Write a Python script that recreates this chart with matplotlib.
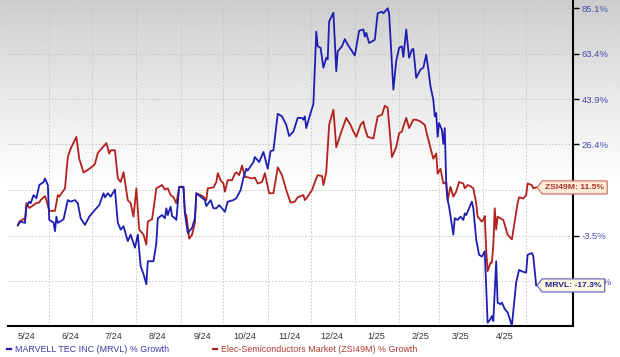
import numpy as np
import pandas as pd
import matplotlib
matplotlib.use("Agg")
import matplotlib.pyplot as plt
from matplotlib.path import Path
from matplotlib.lines import Line2D

# ---------------- data (days since 2024-05-01, % growth) ----------------
start_date = "2024-05-01"

mrvl_days = [9, 11, 14, 15, 17, 18, 20, 22, 24, 27, 28, 30, 31, 34, 35, 36, 37, 41, 44, 46,
             49, 51, 53, 56, 59, 63, 66, 69, 70, 72, 74, 77, 79, 81, 83, 86, 88, 91, 93, 95,
             97, 99, 100, 104, 106, 107, 110, 112, 113, 114, 116, 117, 119, 120, 122, 125, 126, 128, 131, 133,
             134, 137, 140, 141, 144, 146, 148, 150, 152, 154, 156, 160, 162, 165, 167, 169, 170, 174, 175, 178,
             181, 184, 186, 188, 190, 191, 194, 197, 199, 202, 205, 208, 209, 210, 211, 214, 216, 218, 219, 221,
             223, 225, 226, 227, 230, 232, 233, 236, 238, 240, 245, 248, 251, 252, 253, 255, 259, 261, 264, 265,
             268, 269, 272, 274, 276, 278, 279, 281, 283, 285, 286, 288, 291, 293, 295, 296, 298, 300, 301, 302,
             303, 304, 306, 307, 308, 309, 310, 311, 314, 315, 317, 319, 321, 322, 323, 325, 327, 328, 330, 332,
             334, 336, 337, 338, 340, 341, 342, 344, 345, 347, 348, 350, 352, 355, 358, 360, 363, 365, 366, 369,
             370, 372]
mrvl_growth = [-0.3, 0.7, 0.3, 5.3, 6.9, 6.4, 9.0, 8.0, 12.3, 13.3, 14.5, 12.3, 1.2, 0.4, -2.2, 2.2, 0.3, 1.4, 7.4, 6.9,
               7.4, 6.4, 1.7, -0.3, 2.2, 4.3, 5.8, 9.6, 8.3, 9.6, 8.5, 10.8, 0.3, -1.7, -0.7, -5.1, -3.2, -7.0, -3.2, -12.1,
               -14.3, -17.0, -10.8, -10.8, -5.6, 1.7, 2.7, 1.7, 4.8, 2.7, 5.3, 2.4, 1.7, 1.2, 11.7, 11.7, 3.2, -2.7, -1.2, 1.7,
               9.6, 8.5, 7.4, 5.5, 7.4, 4.8, 4.8, 5.8, 4.8, 3.7, 6.9, 7.4, 8.0, 10.6, 14.8, 17.8, 17.2, 20.1, 21.9, 20.1,
               23.7, 17.8, 24.0, 24.3, 33.1, 38.0, 37.0, 33.7, 29.5, 31.2, 36.4, 36.4, 35.7, 37.0, 32.5, 38.3, 41.9, 73.5, 66.7, 66.0,
               57.1, 61.5, 60.8, 78.4, 82.8, 55.6, 64.4, 66.7, 70.0, 67.5, 62.5, 74.0, 74.6, 71.2, 73.0, 68.2, 69.7, 82.5, 83.3, 82.5,
               85.0, 82.5, 47.7, 60.0, 66.0, 66.7, 61.9, 74.6, 61.5, 65.2, 65.5, 52.7, 56.3, 57.1, 62.9, 58.5, 49.1, 43.5, 37.0, 38.3,
               29.2, 34.4, 31.8, 26.6, 32.5, 12.8, 7.4, 5.3, -3.2, 1.7, 1.2, 2.2, 1.2, 3.2, 2.7, 4.8, 6.9, 4.8, -4.6, -9.0,
               -9.5, -8.0, -17.4, -26.6, -25.8, -25.0, -26.2, -10.8, -21.7, -22.1, -21.7, -23.3, -24.1, -27.3, -16.5, -13.2, -13.7, -13.9, -9.0, -8.5,
               -9.4, -17.3]

zsi_days = [9, 10, 13, 14, 15, 17, 20, 22, 24, 25, 28, 29, 31, 35, 37, 38, 42, 44, 46, 50,
            52, 55, 58, 62, 63, 65, 69, 71, 73, 74, 77, 79, 81, 83, 86, 88, 90, 92, 94, 97,
            99, 100, 103, 106, 110, 112, 114, 116, 118, 120, 122, 125, 126, 127, 129, 131, 133, 134, 137, 139,
            141, 142, 146, 148, 149, 151, 153, 154, 156, 159, 161, 162, 164, 166, 168, 169, 173, 175, 177, 180,
            182, 185, 188, 191, 194, 197, 200, 203, 205, 209, 210, 211, 215, 217, 219, 222, 223, 225, 227, 230,
            232, 236, 239, 242, 244, 246, 249, 251, 252, 254, 258, 261, 264, 266, 268, 271, 274, 276, 278, 279,
            281, 283, 286, 288, 291, 294, 296, 299, 300, 302, 303, 305, 307, 309, 310, 312, 314, 316, 318, 321,
            322, 324, 326, 328, 330, 331, 334, 335, 336, 337, 338, 340, 341, 342, 343, 344, 345, 347, 349, 351,
            352, 355, 357, 359, 360, 363, 365, 366, 369, 370, 372]
zsi_growth = [-0.5, 0.7, 1.5, 1.2, 6.5, 4.9, 5.8, 6.5, 6.6, 7.4, 8.7, 7.4, 4.0, 4.0, 9.0, 8.5, 11.2, 21.9, 24.9, 29.2,
              21.3, 16.5, 17.4, 18.9, 19.5, 23.3, 25.7, 26.9, 23.1, 24.3, 24.3, 14.5, 13.3, 16.6, 7.4, 6.4, 2.2, 11.2, -1.7, -3.2,
              -6.1, 0.7, 1.4, 11.2, 12.3, 10.8, 11.2, 9.0, 8.3, 6.4, 11.7, 11.5, 3.2, 2.7, -4.4, -3.2, 0.3, 9.6, 9.0, 8.5,
              7.4, 11.2, 11.5, 13.3, 16.3, 13.9, 12.8, 10.1, 13.9, 13.9, 16.1, 16.6, 15.6, 18.9, 15.0, 15.0, 14.5, 14.8, 12.8, 13.3,
              16.3, 9.6, 9.6, 18.3, 15.6, 10.6, 6.6, 6.9, 8.3, 9.0, 7.4, 7.9, 10.6, 13.3, 15.6, 15.3, 12.3, 16.6, 33.7, 39.6,
              25.4, 31.8, 36.4, 33.7, 31.2, 29.2, 33.7, 35.0, 32.5, 29.2, 28.6, 37.0, 37.6, 41.2, 40.3, 21.9, 25.4, 30.5, 31.2, 33.1,
              36.4, 32.5, 35.7, 35.7, 35.0, 33.7, 29.2, 23.1, 21.3, 23.1, 16.1, 17.8, 12.8, 13.3, 7.4, 11.7, 8.5, 10.1, 13.3, 12.8,
              11.2, 12.3, 11.9, 11.2, 6.4, 2.2, 0.7, 1.2, 2.4, -7.5, -13.5, -11.2, -11.2, -6.1, 4.8, -1.7, 2.2, 1.7, 1.2, -1.7,
              -3.2, -4.6, 0.7, 6.4, 8.3, 7.9, 9.0, 12.8, 12.3, 11.2, 11.5]

y_ticks = [85.1, 63.4, 43.9, 26.4, 10.6, -3.5, -16.2]
month_labels = ["5/24", "6/24", "7/24", "8/24", "9/24", "10/24", "11/24", "12/24",
                "1/25", "2/25", "3/25", "4/25"]
mrvl_name = "MARVELL TEC INC (MRVL) % Growth"
zsi_name = "Elec-Semiconductors Market (ZSI49M) % Growth"
mrvl_tag = "MRVL: -17.3%"
zsi_tag = "ZSI49M: 11.5%"

# ---------------- styling ----------------
W, H = 620, 357
BLUE = "#1e1eb2"
RED = "#b3211d"
FONT = ["Liberation Sans", "DejaVu Sans"]
plt.rcParams["font.family"] = FONT

base = pd.Timestamp(start_date)
mrvl_dates = base + pd.to_timedelta(mrvl_days, unit="D")
zsi_dates = base + pd.to_timedelta(zsi_days, unit="D")

fig = plt.figure(figsize=(W / 100, H / 100), dpi=100)
fig.patch.set_facecolor("white")

# background gradient (light grey at top fading to white)
bg = fig.add_axes([0, 0, 1, 1], zorder=-10)
rows = np.arange(H)
shade = 0.80 + 0.20 * np.clip(rows / 185.0, 0, 1) ** 0.9
img = np.repeat(shade[:, None], 2, axis=1)
bg.imshow(img, cmap="gray", vmin=0, vmax=1, aspect="auto", extent=[0, 1, 0, 1],
          interpolation="bilinear")
bg.axis("off")

ax_left, ax_right, ax_top, ax_bottom = 8, 573, 0, 326
ax = fig.add_axes([ax_left / W, (H - ax_bottom) / H, (ax_right - ax_left) / W,
                   (ax_bottom - ax_top) / H])
ax.patch.set_alpha(0)

OFFSET = 127.6
ax.set_yscale("function", functions=(lambda v: np.log(np.maximum(v + OFFSET, 1e-6)),
                                     lambda u: np.exp(u) - OFFSET))
ax.set_ylim(-27.4, 89.2)
ax.set_xlim(base + pd.Timedelta(days=2.1), base + pd.Timedelta(days=397.8))

ax.plot(zsi_dates, zsi_growth, color=RED, lw=1.3, zorder=3, solid_joinstyle="round")
ax.plot(mrvl_dates, mrvl_growth, color=BLUE, lw=1.3, zorder=4, solid_joinstyle="round")

# y axis on the right
ax.yaxis.tick_right()
ax.set_yticks(y_ticks)
ax.set_yticklabels([f"{v}%" for v in y_ticks])
ax.yaxis.set_minor_locator(matplotlib.ticker.NullLocator())
ax.tick_params(axis="y", which="major", direction="out", length=4, width=1,
               color="black", labelcolor="#4b4bb4", labelsize=6.8, pad=2)

# x axis: grid at month starts, labels mid-month
month_starts = [base + pd.DateOffset(months=i) for i in range(1, 13)]
label_pos = [base + pd.Timedelta(days=15) + pd.DateOffset(months=i) for i in range(len(month_labels))]
ax.set_xticks(month_starts)
ax.set_xticklabels([])
ax.set_xticks(label_pos, minor=True)
ax.set_xticklabels(month_labels, minor=True)
ax.tick_params(axis="x", which="both", length=0, labelsize=6.6, labelcolor="#333333", pad=4)

ax.grid(True, which="major", color="#c4c4c4", linestyle=(0, (2, 2)), linewidth=0.6)
ax.set_axisbelow(True)

for s in ["left", "top"]:
    ax.spines[s].set_visible(False)
for s in ["bottom", "right"]:
    ax.spines[s].set_color("black")
    ax.spines[s].set_linewidth(1.5)


# tag-shaped label boxes
def tag_box(x0, y0, width, height, mutation_size):
    pad = mutation_size * 0.36
    x0 -= pad
    y0 -= pad
    width += 2 * pad
    height += 2 * pad
    x1, y1 = x0 + width, y0 + height
    tip = height * 0.38
    verts = [(x0 - tip, y0 + height / 2), (x0, y1), (x1, y1), (x1, y0), (x0, y0),
             (x0 - tip, y0 + height / 2)]
    codes = [Path.MOVETO] + [Path.LINETO] * 4 + [Path.CLOSEPOLY]
    return Path(verts, codes)


ax.annotate(zsi_tag, xy=(zsi_dates[-1], zsi_growth[-1]), xytext=(9, 0),
            textcoords="offset pixels", ha="left", va="center", fontsize=6.1,
            fontweight="bold", color="#b0302a", annotation_clip=False, zorder=10,
            bbox=dict(boxstyle=tag_box, fc="#fbecd8", ec="#d0685c", lw=0.8))
ax.annotate(mrvl_tag, xy=(mrvl_dates[-1], mrvl_growth[-1]), xytext=(9, 0),
            textcoords="offset pixels", ha="left", va="center", fontsize=6.1,
            fontweight="bold", color="#22228a", annotation_clip=False, zorder=10,
            bbox=dict(boxstyle=tag_box, fc="#fbf7e0", ec="#5a5ac0", lw=0.8))

# legend at bottom
ly = (H - 349) / H
fig.add_artist(Line2D([7 / W, 11 / W], [ly, ly], transform=fig.transFigure, color=BLUE, lw=1.6))
fig.text(15 / W, ly, mrvl_name, color="#3c3ca6", fontsize=6.4, va="center", ha="left")
fig.add_artist(Line2D([213 / W, 217 / W], [ly, ly], transform=fig.transFigure, color=RED, lw=1.6))
fig.text(221 / W, ly, zsi_name, color="#b03a32", fontsize=6.4, va="center", ha="left")

fig.savefig("out.png", dpi=100)
